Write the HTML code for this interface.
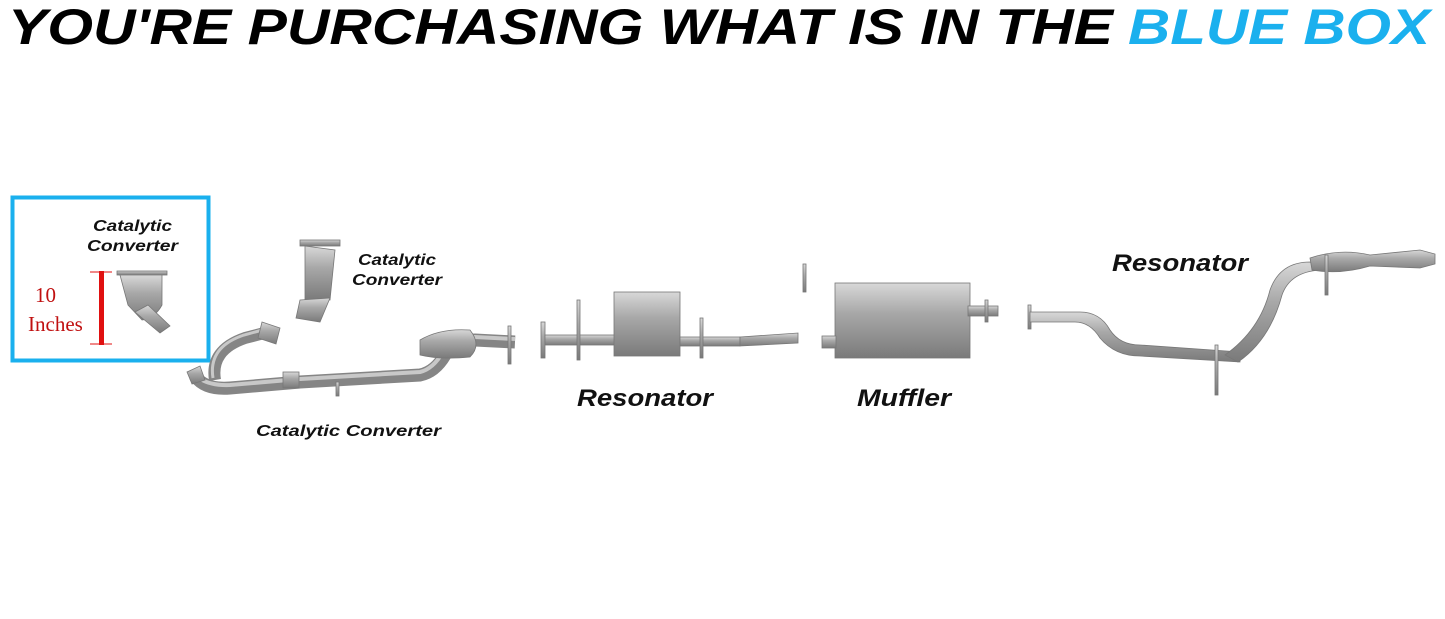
<!DOCTYPE html>
<html><head><style>
body{margin:0;background:#fff;}
svg{display:block}
</style></head><body>
<svg width="1445" height="619" viewBox="0 0 1445 619" xmlns="http://www.w3.org/2000/svg">
<defs>
<linearGradient id="g" x1="0" y1="0" x2="0" y2="1">
<stop offset="0" stop-color="#d8d8d8"/><stop offset="0.4" stop-color="#a8a8a8"/><stop offset="1" stop-color="#7a7a7a"/>
</linearGradient>
</defs>
<text x="8" y="44" font-family="Liberation Sans, sans-serif" font-weight="bold" font-style="italic" font-size="50" textLength="1105" lengthAdjust="spacingAndGlyphs" fill="#000">YOU'RE PURCHASING WHAT IS IN THE</text>
<text x="1128" y="44" font-family="Liberation Sans, sans-serif" font-weight="bold" font-style="italic" font-size="50" textLength="302" lengthAdjust="spacingAndGlyphs" fill="#1ab0ee">BLUE BOX</text>

<rect x="12.5" y="197.5" width="196" height="163" fill="none" stroke="#1ab0ee" stroke-width="4"/>
<g font-family="Liberation Sans, sans-serif" font-weight="bold" font-style="italic" font-size="16" fill="#111">
<text x="93" y="231" textLength="79" lengthAdjust="spacingAndGlyphs">Catalytic</text><text x="87" y="251" textLength="91" lengthAdjust="spacingAndGlyphs">Converter</text>
<text x="358" y="265" textLength="78" lengthAdjust="spacingAndGlyphs">Catalytic</text><text x="352" y="285" textLength="90" lengthAdjust="spacingAndGlyphs">Converter</text>
<text x="256" y="436" textLength="185" lengthAdjust="spacingAndGlyphs">Catalytic Converter</text>
</g>
<g font-family="Liberation Sans, sans-serif" font-weight="bold" font-style="italic" font-size="24" fill="#111">
<text x="577" y="406" textLength="136" lengthAdjust="spacingAndGlyphs">Resonator</text>
<text x="857" y="406" textLength="94" lengthAdjust="spacingAndGlyphs">Muffler</text>
<text x="1112" y="271" textLength="136" lengthAdjust="spacingAndGlyphs">Resonator</text>
</g>
<text x="35" y="302" font-family="Liberation Serif, serif" font-size="21" fill="#c01010">10</text>
<text x="28" y="331" font-family="Liberation Serif, serif" font-size="21" fill="#c01010">Inches</text>
<rect x="99" y="271" width="5" height="74" fill="#e01010"/>
<line x1="90" y1="272" x2="112" y2="272" stroke="#e01010"/><line x1="90" y1="344" x2="112" y2="344" stroke="#e01010"/>

<g fill="none" stroke-linecap="butt">
<!-- front pipe strokes -->
<path d="M195 376 Q205 390 230 388 L300 382 L420 375 Q435 372 445 355 Q455 340 475 340 L515 342" stroke="#858585" stroke-width="13"/>
<path d="M195 374 Q205 386 230 385 L300 379 L420 372 Q433 369 443 352 Q455 337 475 337 L515 339" stroke="#c8c8c8" stroke-width="4"/>
<path d="M215 380 Q210 350 245 338 L268 332" stroke="#858585" stroke-width="12"/>
<path d="M213 378 Q208 347 244 335 L266 329" stroke="#c8c8c8" stroke-width="3"/>
</g>
<g fill="url(#g)" stroke="#777" stroke-width="0.8">
<!-- box cat -->
<rect x="117" y="271" width="50" height="4"/>
<path d="M120 275 H162 V305 Q155 318 142 320 L128 305 Z"/>
<path d="M135 312 L160 333 L170 326 L148 305 Z"/>
<!-- floating cat -->
<rect x="300" y="240" width="40" height="6"/>
<path d="M305 246 L335 250 L330 300 L305 300 Z"/>
<path d="M300 300 L330 298 L320 322 L296 318 Z"/>
<!-- front flange + cat -->
<path d="M187 372 L200 366 L205 380 L192 384 Z"/>
<path d="M262 322 L280 328 L276 344 L258 338 Z"/>
<path d="M420 340 Q440 328 470 330 Q482 345 470 357 Q440 360 420 355 Z"/>
<rect x="283" y="372" width="16" height="16"/>
<rect x="508" y="326" width="3" height="38"/>
<rect x="336" y="382" width="3" height="14"/>
<!-- resonator section -->
<rect x="541" y="322" width="4" height="36"/>
<rect x="545" y="335" width="70" height="10"/>
<rect x="614" y="292" width="66" height="64"/>
<rect x="680" y="337" width="60" height="9"/>
<path d="M740 337 L798 333 L798 343 L740 346 Z"/>
<rect x="577" y="300" width="3" height="60"/>
<rect x="700" y="318" width="3" height="40"/>
<!-- muffler -->
<rect x="803" y="264" width="3" height="28"/>
<rect x="835" y="283" width="135" height="75"/>
<rect x="822" y="336" width="14" height="12"/>
<rect x="968" y="306" width="30" height="10"/>
<rect x="985" y="300" width="3" height="22"/>
<!-- rear -->
<rect x="1028" y="305" width="3" height="24"/>
<path d="M1030 312 L1080 312 Q1100 312 1110 330 Q1120 345 1140 345 L1240 352 L1240 362 L1140 356 Q1115 356 1100 338 Q1090 322 1075 322 L1030 322 Z"/>
<path d="M1225 355 Q1260 330 1270 290 Q1280 262 1310 262 L1320 270 Q1290 272 1282 295 Q1270 340 1238 362 Z"/>
<path d="M1310 258 Q1340 248 1370 255 L1420 250 L1435 254 L1435 264 L1420 268 L1370 266 Q1340 275 1312 270 Z"/>
<rect x="1215" y="345" width="3" height="50"/>
<rect x="1325" y="255" width="3" height="40"/>
</g>
</svg>
</body></html>
